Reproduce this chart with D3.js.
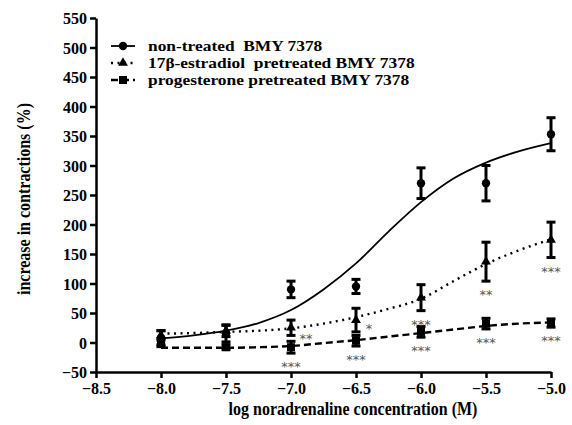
<!DOCTYPE html>
<html><head><meta charset="utf-8">
<script src="https://cdn.jsdelivr.net/npm/d3@7"></script>
<style>body{margin:0;background:#fff}svg{display:block}</style>
</head><body>
<script>
// ---- data ----
const doses = [-8.0, -7.5, -7.0, -6.5, -6.0, -5.5, -5.0];
const nonTreatedMean = [8, 15, 90, 95, 270, 270, 353];
const nonTreatedSem  = [12, 14, 14, 12, 26, 30, 28];
const estradiolMean  = [12, 20, 25, 38, 76, 137, 174];
const estradiolSem   = [8, 10, 13, 20, 22, 33, 30];
const progestMean    = [0, -8, -8, 3, 18, 32, 33];
const progestSem     = [7, 4, 10, 9, 9, 9, 7];
// fitted curves
const curveX = [-8, -7.75, -7.5, -7.25, -7, -6.75, -6.5, -6.25, -6, -5.75, -5.5, -5.25, -5];
const nonTreatedFit = [7, 12, 20, 33, 55, 90, 134, 188, 238, 278, 305, 324, 338];
const estradiolFit  = [15, 16, 18, 20, 24, 32, 43, 57, 74, 104, 133, 156, 175];
const progestFit    = [-9, -9, -9, -8, -6, -1, 4, 10, 16, 22, 28, 32, 34];
const estradiolStars = ["", "", "**", "*", "***", "**", "***"];
const progestStars   = ["", "", "***", "***", "***", "***", "***"];
const xTicks = [-8.5, -8.0, -7.5, -7.0, -6.5, -6.0, -5.5, -5.0];
const yTicks = [-50, 0, 50, 100, 150, 200, 250, 300, 350, 400, 450, 500, 550];
const legendLabels = ["non-treated  BMY 7378", "17\u03B2-estradiol  pretreated BMY 7378", "progesterone pretreated BMY 7378"];
const yTitle = "increase in contractions (%)";
const xTitle = "log noradrenaline concentration (M)";

const W = 572, H = 425;
const svg = d3.select("body").append("svg").attr("width", W).attr("height", H)
  .style("font-family", "'Liberation Serif', 'Times New Roman', serif").style("font-weight", "bold");

const x = d3.scaleLinear().domain([-8.5, -5.0]).range([96, 551]);
const y = d3.scaleLinear().domain([-50, 550]).range([372, 18]);

// axes
const ax = svg.append("g").attr("transform", `translate(0,${y(-50)})`)
  .call(d3.axisBottom(x).tickValues(xTicks).tickFormat(d3.format(".1f")).tickSize(6).tickSizeOuter(0));
const ay = svg.append("g").attr("transform", `translate(${x(-8.5)},0)`)
  .call(d3.axisLeft(y).tickValues(yTicks).tickFormat(d3.format("d")).tickSize(6).tickSizeOuter(0));
[ax, ay].forEach(g => {
  g.select(".domain").attr("stroke", "#000").attr("stroke-width", 2.5);
  g.selectAll(".tick line").attr("stroke", "#000").attr("stroke-width", 2.5);
  g.selectAll(".tick text").attr("fill", "#000").style("font-size", "16px")
    .style("font-family", "'Liberation Serif', serif").style("font-weight", "bold");
});
ax.selectAll(".tick text").attr("dy", "0.9em").attr("y", 8);
ay.selectAll(".tick text").attr("x", -9).attr("dy", "0.36em");

// titles
svg.append("text").attr("transform", `translate(30,199) rotate(-90) scale(1,1.12)`).attr("text-anchor", "middle")
  .style("font-size", "16px").text(yTitle);
svg.append("text").attr("transform", `translate(353,415) scale(1,1.15)`).attr("text-anchor", "middle")
  .style("font-size", "16px").text(xTitle);

const line = d3.line().x(d => x(d[0])).y(d => y(d[1])).curve(d3.curveMonotoneX);
const styles = [
  {fit: nonTreatedFit, mean: nonTreatedMean, sem: nonTreatedSem, dash: null, w: 1.8, shape: d3.symbolCircle, size: 55},
  {fit: estradiolFit, mean: estradiolMean, sem: estradiolSem, dash: "2,4.5", w: 2.4, shape: d3.symbolTriangle, size: 42},
  {fit: progestFit, mean: progestMean, sem: progestSem, dash: "7,4", w: 2.4, shape: d3.symbolSquare, size: 64}
];

styles.forEach(s => {
  svg.append("path").datum(curveX.map((cx, i) => [cx, s.fit[i]]))
    .attr("d", line).attr("fill", "none").attr("stroke", "#000")
    .attr("stroke-width", s.w).attr("stroke-dasharray", s.dash);
});

styles.forEach(s => {
  const g = svg.append("g");
  doses.forEach((d, i) => {
    const cx = x(d), m = s.mean[i], e = s.sem[i];
    g.append("line").attr("x1", cx).attr("x2", cx).attr("y1", y(m + e)).attr("y2", y(m - e))
      .attr("stroke", "#000").attr("stroke-width", 3);
    [m + e, m - e].forEach(v => g.append("line").attr("x1", cx - 4.5).attr("x2", cx + 4.5)
      .attr("y1", y(v)).attr("y2", y(v)).attr("stroke", "#000").attr("stroke-width", 3));
    g.append("path").attr("d", d3.symbol().type(s.shape).size(s.size)())
      .attr("transform", `translate(${cx},${y(m)})`).attr("fill", "#000");
  });
});

// significance
const starStyle = sel => sel.attr("fill", "#555").style("font-family", "'DejaVu Sans', sans-serif")
  .style("font-weight", "normal").style("font-size", "13px").attr("text-anchor", "middle");
doses.forEach((d, i) => {
  if (estradiolStars[i]) {
    let px = x(d), py = y(estradiolMean[i] - estradiolSem[i]) + 18;
    if (i === 2) { px += 15; py = y(estradiolMean[i]) + 15; }
    if (i === 3) { px += 13; py = y(estradiolMean[i]) + 13; }
    svg.append("text").attr("x", px).attr("y", py).text(estradiolStars[i]).call(starStyle);
  }
  if (progestStars[i]) {
    svg.append("text").attr("x", x(d)).attr("y", y(progestMean[i] - progestSem[i]) + 18)
      .text(progestStars[i]).call(starStyle);
  }
});

// legend
const legY = [46, 63, 80];
styles.forEach((s, i) => {
  const ly = legY[i];
  svg.append("line").attr("x1", 111).attr("x2", 135).attr("y1", ly).attr("y2", ly)
    .attr("stroke", "#000").attr("stroke-width", s.w).attr("stroke-dasharray", s.dash);
  svg.append("path").attr("d", d3.symbol().type(s.shape).size(s.size)())
    .attr("transform", `translate(123,${ly})`).attr("fill", "#000");
  svg.append("text").attr("transform", `translate(148,${ly + 5}) scale(1.2,1)`).style("font-size", "14.5px")
    .attr("xml:space", "preserve").style("white-space", "pre").text(legendLabels[i]);
});
</script>
</body></html>
